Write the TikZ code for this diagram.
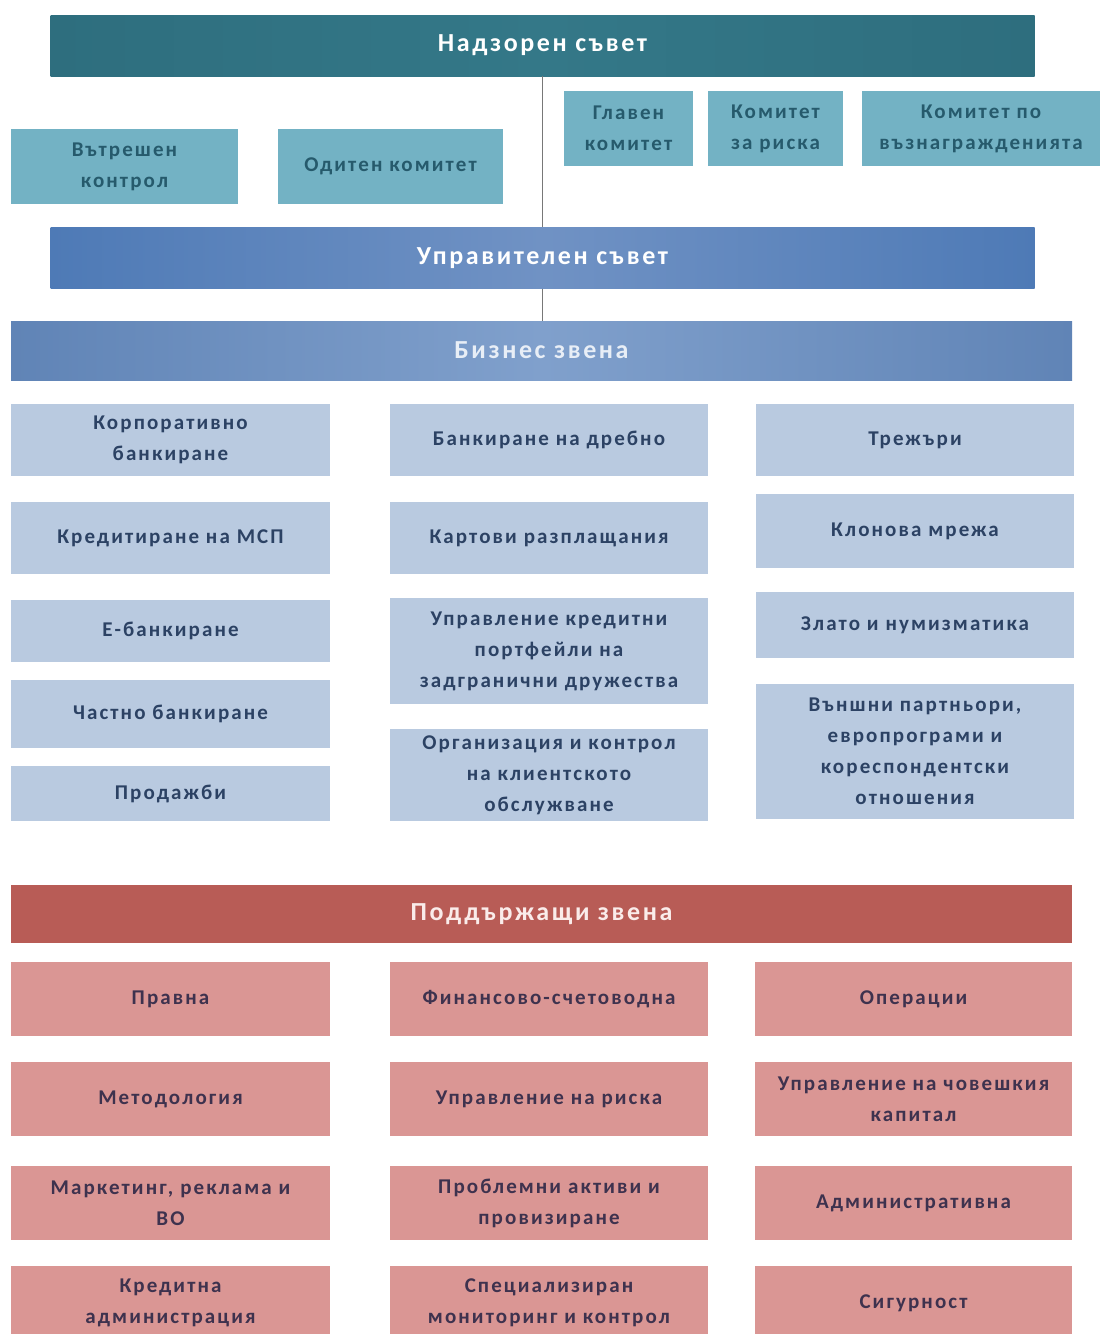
\documentclass[tikz,border=0pt]{standalone}
\usepackage{fontspec}
\setmainfont{Carlito}[LetterSpace=10]
\definecolor{tealhead}{RGB}{46,110,126}
\definecolor{tealmid}{RGB}{52,120,136}
\definecolor{comm}{RGB}{115,178,196}
\definecolor{commtxt}{RGB}{38,90,108}
\definecolor{mgmt}{RGB}{78,122,182}
\definecolor{mgmtmid}{RGB}{112,146,196}
\definecolor{biz}{RGB}{96,132,182}
\definecolor{bizmid}{RGB}{128,160,204}
\definecolor{bizbox}{RGB}{185,202,224}
\definecolor{biztxt}{RGB}{44,66,100}
\definecolor{sup}{RGB}{184,92,86}
\definecolor{supbox}{RGB}{218,150,148}
\definecolor{suptxt}{RGB}{62,50,78}
\definecolor{conn}{RGB}{120,120,120}
\begin{document}
\begin{tikzpicture}[x=1pt,y=-1pt,
  boxbase/.style={rectangle, inner sep=2pt, align=center, font=\bfseries\fontsize{21}{31}\selectfont},
  headbase/.style={rectangle, inner sep=2pt, align=center, font=\bfseries\fontsize{26}{32}\selectfont},
  nadzor/.style={headbase, left color=tealhead, right color=tealhead, middle color=tealmid, text=white},
  upravl/.style={headbase, left color=mgmt, right color=mgmt, middle color=mgmtmid, text=white},
  biznes/.style={headbase, left color=biz, right color=biz, middle color=bizmid, text={rgb,255:red,232;green,238;blue,246}},
  podd/.style={headbase, fill=sup, text={rgb,255:red,250;green,236;blue,234}},
  commbox/.style={boxbase, fill=comm, text=commtxt},
  bizbx/.style={boxbase, fill=bizbox, text=biztxt},
  supbx/.style={boxbase, fill=supbox, text=suptxt},
  link/.style={draw=conn, line width=1.5pt}
]
\useasboundingbox (0,0) rectangle (1100,1334);
\clip (0,0) rectangle (1100,1334);
\fill[white] (0,0) rectangle (1100,1334);

% governance
\node[nadzor, minimum width=984, minimum height=61] (nad) at (542.5,45.5) {Надзорен съвет};
\node[commbox, minimum width=227, minimum height=75] (vk) at (124.5,166.5) {Вътрешен\\контрол};
\node[commbox, minimum width=225, minimum height=75] (ok) at (390.5,166.5) {Одитен комитет};
\node[commbox, minimum width=129, minimum height=75] (gk) at (628.5,128.5) {Главен\\комитет};
\node[commbox, minimum width=135, minimum height=75] (kr) at (775.5,128.5) {Комитет\\за риска};
\node[commbox, minimum width=238, minimum height=75] (kv) at (981,128.5) {Комитет по\\възнагражденията};
\node[upravl, minimum width=984, minimum height=61] (upr) at (542.5,258) {Управителен съвет};
\node[biznes, minimum width=1061, minimum height=59] (bz) at (541.5,350.5) {Бизнес звена};

\path[link] (nad.south) -- (upr.north);
\path[link] (upr.south) -- (upr.south |- bz.north);

% business units, column 1
\node[bizbx, minimum width=319, minimum height=72] (b11) at (170.5,440) {Корпоративно\\банкиране};
\node[bizbx, minimum width=319, minimum height=72] (b12) at (170.5,538) {Кредитиране на МСП};
\node[bizbx, minimum width=319, minimum height=62] (b13) at (170.5,631) {Е-банкиране};
\node[bizbx, minimum width=319, minimum height=68] (b14) at (170.5,714) {Частно банкиране};
\node[bizbx, minimum width=319, minimum height=55] (b15) at (170.5,793.5) {Продажби};
% column 2
\node[bizbx, minimum width=318, minimum height=72] (b21) at (549,440) {Банкиране на дребно};
\node[bizbx, minimum width=318, minimum height=72] (b22) at (549,538) {Картови разплащания};
\node[bizbx, minimum width=318, minimum height=106] (b23) at (549,651) {Управление кредитни\\портфейли на\\задгранични дружества};
\node[bizbx, minimum width=318, minimum height=92] (b24) at (549,775) {Организация и контрол\\на клиентското\\обслужване};
% column 3
\node[bizbx, minimum width=318, minimum height=72] (b31) at (915,440) {Трежъри};
\node[bizbx, minimum width=318, minimum height=74] (b32) at (915,531) {Клонова мрежа};
\node[bizbx, minimum width=318, minimum height=66] (b33) at (915,625) {Злато и нумизматика};
\node[bizbx, minimum width=318, minimum height=135] (b34) at (915,751.5) {Външни партньори,\\европрограми и\\кореспондентски\\отношения};

% support units
\node[podd, minimum width=1061, minimum height=58] (pz) at (541.5,914) {Поддържащи звена};

\node[supbx, minimum width=319, minimum height=74] (s11) at (170.5,999) {Правна};
\node[supbx, minimum width=319, minimum height=74] (s12) at (170.5,1099) {Методология};
\node[supbx, minimum width=319, minimum height=74] (s13) at (170.5,1203) {Маркетинг, реклама и\\ВО};
\node[supbx, minimum width=319, minimum height=74] (s14) at (170.5,1303) {Кредитна\\администрация};

\node[supbx, minimum width=318, minimum height=74] (s21) at (549,999) {Финансово-счетоводна};
\node[supbx, minimum width=318, minimum height=74] (s22) at (549,1099) {Управление на риска};
\node[supbx, minimum width=318, minimum height=74] (s23) at (549,1203) {Проблемни активи и\\провизиране};
\node[supbx, minimum width=318, minimum height=74] (s24) at (549,1303) {Специализиран\\мониторинг и контрол};

\node[supbx, minimum width=317, minimum height=74] (s31) at (913.5,999) {Операции};
\node[supbx, minimum width=317, minimum height=74] (s32) at (913.5,1099) {Управление на човешкия\\капитал};
\node[supbx, minimum width=317, minimum height=74] (s33) at (913.5,1203) {Административна};
\node[supbx, minimum width=317, minimum height=74] (s34) at (913.5,1303) {Сигурност};
\end{tikzpicture}
\end{document}
